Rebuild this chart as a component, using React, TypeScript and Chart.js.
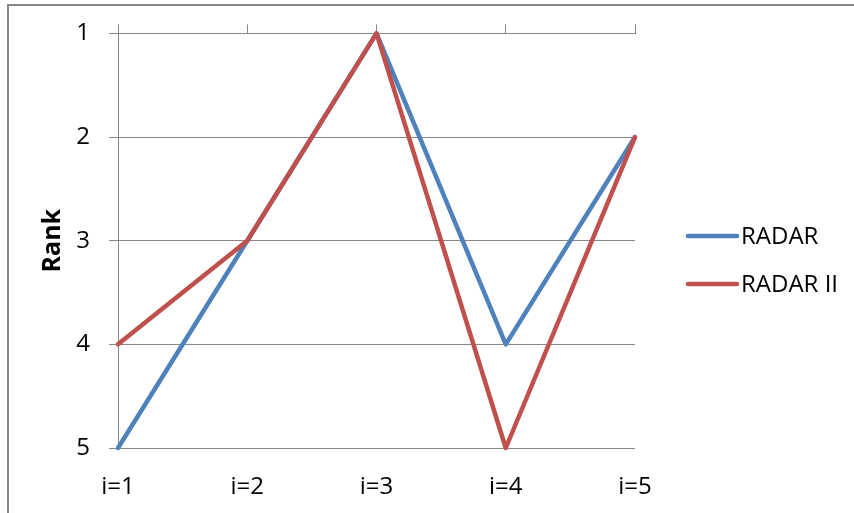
import React, { useEffect, useRef } from "react";
import { Chart, registerables } from "chart.js";

Chart.register(...registerables);

// Categories and ranks for each method
const categories = ["i=1", "i=2", "i=3", "i=4", "i=5"];
const radarRanks = [5, 3, 1, 4, 2];
const radarIIRanks = [4, 3, 1, 5, 2];
const seriesNames = ["RADAR", "RADAR II"];
const seriesColors = ["#4F81BD", "#C0504D"];
const rankTicks = [1, 2, 3, 4, 5];

const FONT = "'Open Sans', sans-serif";
const GRID = "#878787";

// Outer frame (top and left edges) drawn behind the chart
const framePlugin = {
  id: "frame",
  beforeDraw(chart: any) {
    const ctx = chart.ctx;
    ctx.save();
    ctx.fillStyle = "#ffffff";
    ctx.fillRect(0, 0, chart.width, chart.height);
    ctx.strokeStyle = GRID;
    ctx.lineWidth = 2;
    ctx.beginPath();
    ctx.moveTo(chart.width, 5);
    ctx.lineTo(8, 5);
    ctx.lineTo(8, chart.height);
    ctx.stroke();
    ctx.restore();
  },
};

// Legend on the right: a short line sample followed by the series name
const sideLegendPlugin = {
  id: "sideLegend",
  afterDraw(chart: any) {
    const ctx = chart.ctx;
    ctx.save();
    const x0 = 688;
    const x1 = 737;
    const rowsY = [236, 284];
    chart.data.datasets.forEach((ds: any, i: number) => {
      const y = rowsY[i];
      ctx.strokeStyle = ds.borderColor;
      ctx.lineWidth = 4.5;
      ctx.lineCap = "round";
      ctx.beginPath();
      ctx.moveTo(x0, y);
      ctx.lineTo(x1, y);
      ctx.stroke();
      ctx.fillStyle = "#000000";
      ctx.font = `24px ${FONT}`;
      ctx.textAlign = "left";
      ctx.textBaseline = "middle";
      ctx.fillText(ds.label, x1 + 4, y + 1);
    });
    ctx.restore();
  },
};

export default function App() {
  const canvasRef = useRef<HTMLCanvasElement | null>(null);

  useEffect(() => {
    if (!canvasRef.current) return;
    const chart = new Chart(canvasRef.current, {
      type: "line",
      data: {
        labels: categories,
        datasets: [
          {
            label: seriesNames[0],
            data: radarRanks,
            borderColor: seriesColors[0],
            backgroundColor: seriesColors[0],
            borderWidth: 4.5,
            pointRadius: 0,
            borderJoinStyle: "round",
            borderCapStyle: "round",
            tension: 0,
            clip: false,
            order: 1,
          },
          {
            label: seriesNames[1],
            data: radarIIRanks,
            borderColor: seriesColors[1],
            backgroundColor: seriesColors[1],
            borderWidth: 4.5,
            pointRadius: 0,
            borderJoinStyle: "round",
            borderCapStyle: "round",
            tension: 0,
            clip: false,
            order: 0,
          },
        ],
      },
      options: {
        responsive: false,
        animation: false,
        events: [],
        layout: { padding: { left: 0, top: 23, right: 219, bottom: 0 } },
        plugins: {
          legend: { display: false },
          tooltip: { enabled: false },
        },
        scales: {
          x: {
            type: "category",
            position: "top",
            offset: false,
            ticks: { display: false },
            grid: {
              drawOnChartArea: false,
              drawTicks: true,
              tickLength: 9,
              color: GRID,
            },
            border: { display: true, color: GRID, width: 1 },
            afterFit: (s: any) => {
              s.height = 9;
            },
          },
          xLabels: {
            type: "category",
            position: "bottom",
            labels: categories,
            offset: false,
            grid: { display: false, drawTicks: false },
            border: { display: false },
            ticks: {
              color: "#000000",
              font: { family: FONT, size: 24 },
              padding: 25,
              maxRotation: 0,
              autoSkip: false,
            },
            afterFit: (s: any) => {
              s.height = 65;
            },
          },
          y: {
            reverse: true,
            min: 1,
            max: 5,
            afterBuildTicks: (s: any) => {
              s.ticks = rankTicks.map((v) => ({ value: v }));
            },
            ticks: {
              color: "#000000",
              font: { family: FONT, size: 24 },
              padding: 19,
            },
            grid: { color: GRID, tickLength: 9, lineWidth: 1 },
            border: { display: true, color: GRID, width: 1 },
            title: {
              display: true,
              text: "Rank",
              color: "#000000",
              font: { family: FONT, size: 25, weight: "bold" },
              padding: { top: 38, bottom: 0 },
            },
            afterFit: (s: any) => {
              s.width = 118;
            },
          },
        },
      },
      plugins: [framePlugin, sideLegendPlugin],
    } as any);
    return () => chart.destroy();
  }, []);

  return (
    <div style={{ position: "absolute", left: 0, top: 0, width: 854, height: 513 }}>
      <canvas ref={canvasRef} width={854} height={513} />
    </div>
  );
}
